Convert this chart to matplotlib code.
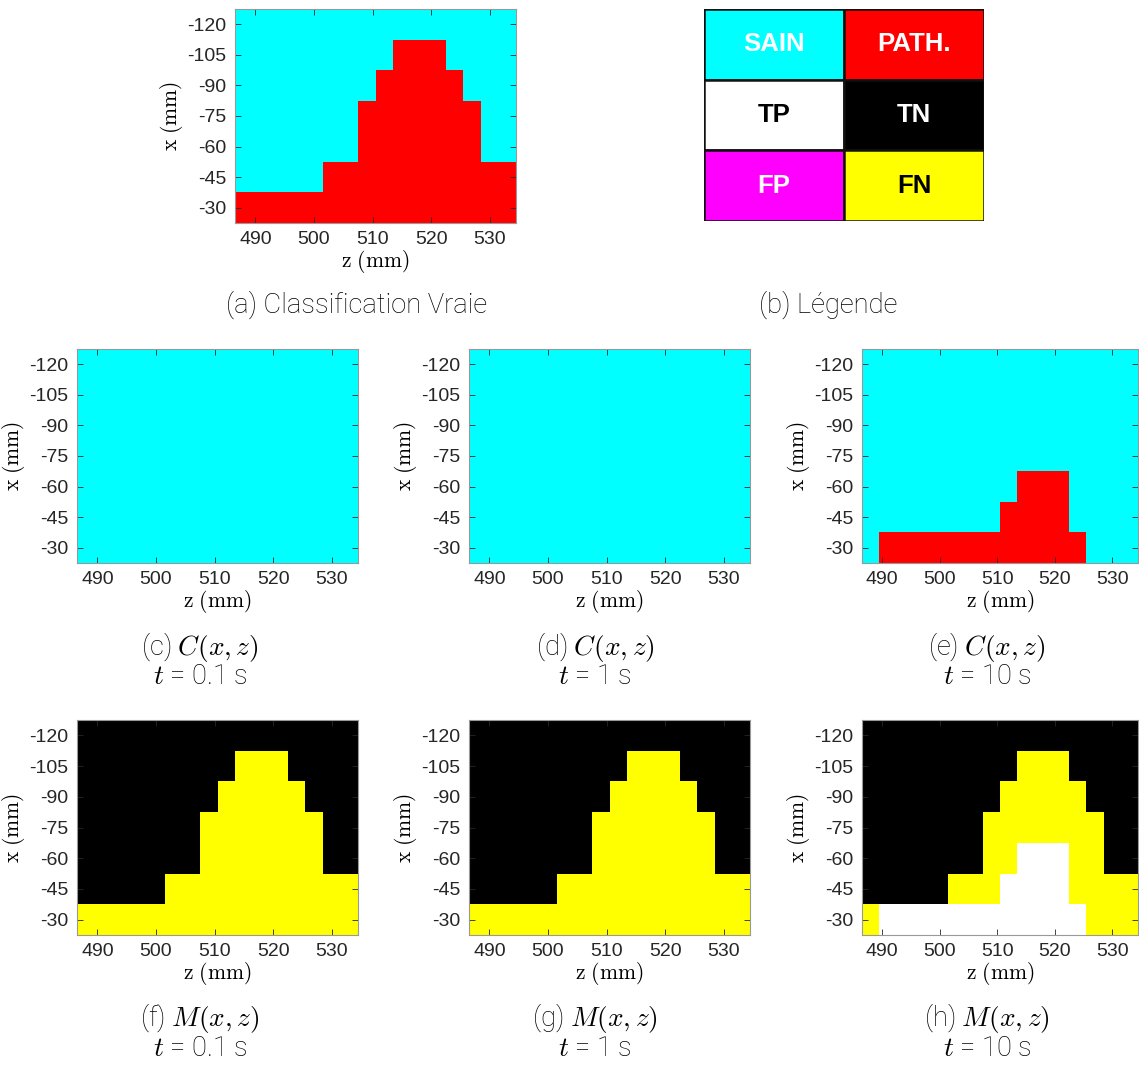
import matplotlib
matplotlib.use('Agg')
import matplotlib.pyplot as plt
import numpy as np
from matplotlib.colors import ListedColormap

plt.rcParams['mathtext.fontset'] = 'cm'
plt.rcParams['axes.unicode_minus'] = False

# grid centres
z_mm = [488 + 3 * i for i in range(16)]
x_mm = [-120, -105, -90, -75, -60, -45, -30]

# true classification: 0 = sain, 1 = pathologique (rows from x=-120 to x=-30)
truth = [
    [0, 0, 0, 0, 0, 0, 0, 0, 0, 0, 0, 0, 0, 0, 0, 0],
    [0, 0, 0, 0, 0, 0, 0, 0, 0, 1, 1, 1, 0, 0, 0, 0],
    [0, 0, 0, 0, 0, 0, 0, 0, 1, 1, 1, 1, 1, 0, 0, 0],
    [0, 0, 0, 0, 0, 0, 0, 1, 1, 1, 1, 1, 1, 1, 0, 0],
    [0, 0, 0, 0, 0, 0, 0, 1, 1, 1, 1, 1, 1, 1, 0, 0],
    [0, 0, 0, 0, 0, 1, 1, 1, 1, 1, 1, 1, 1, 1, 1, 1],
    [1, 1, 1, 1, 1, 1, 1, 1, 1, 1, 1, 1, 1, 1, 1, 1],
]
pred_t01 = [[0] * 16 for _ in range(7)]
pred_t1 = [[0] * 16 for _ in range(7)]
pred_t10 = [
    [0, 0, 0, 0, 0, 0, 0, 0, 0, 0, 0, 0, 0, 0, 0, 0],
    [0, 0, 0, 0, 0, 0, 0, 0, 0, 0, 0, 0, 0, 0, 0, 0],
    [0, 0, 0, 0, 0, 0, 0, 0, 0, 0, 0, 0, 0, 0, 0, 0],
    [0, 0, 0, 0, 0, 0, 0, 0, 0, 0, 0, 0, 0, 0, 0, 0],
    [0, 0, 0, 0, 0, 0, 0, 0, 0, 1, 1, 1, 0, 0, 0, 0],
    [0, 0, 0, 0, 0, 0, 0, 0, 1, 1, 1, 1, 0, 0, 0, 0],
    [0, 1, 1, 1, 1, 1, 1, 1, 1, 1, 1, 1, 1, 0, 0, 0],
]
times = ['0.1', '1', '10']

legend_labels = [['SAIN', 'PATH.'], ['TP', 'TN'], ['FP', 'FN']]
legend_colors = [['#00ffff', '#ff0000'], ['#ffffff', '#000000'], ['#ff00ff', '#ffff00']]
legend_text = [['white', 'white'], ['black', 'white'], ['white', 'black']]

class_cmap = ListedColormap(['#00ffff', '#ff0000'])
# 0 TN, 1 FP, 2 FN, 3 TP
match_cmap = ListedColormap(['#000000', '#ff00ff', '#ffff00', '#ffffff'])


def match_map(t, p):
    t = np.array(t)
    p = np.array(p)
    m = np.zeros_like(t)
    m[(t == 0) & (p == 1)] = 1
    m[(t == 1) & (p == 0)] = 2
    m[(t == 1) & (p == 1)] = 3
    return m


z_edges = np.concatenate([[z_mm[0] - 1.5], np.array(z_mm) + 1.5])
x_edges = np.concatenate([[x_mm[0] - 7.5], np.array(x_mm) + 7.5])

W, H = 1139, 1065
fig = plt.figure(figsize=(W / 100, H / 100), dpi=100)


def px_axes(l, t, r, b):
    return fig.add_axes([l / W, 1 - b / H, (r - l) / W, (b - t) / H])


def draw_map(ax, data, cmap, vmax):
    ax.pcolormesh(z_edges, x_edges, np.array(data), cmap=cmap, vmin=-0.5, vmax=vmax + 0.5)
    ax.set_xlim(z_edges[0], z_edges[-1])
    ax.set_ylim(x_edges[-1], x_edges[0])
    ax.set_xticks([490, 500, 510, 520, 530])
    ax.set_yticks([-120, -105, -90, -75, -60, -45, -30])
    ax.tick_params(direction='in', top=True, right=True, length=4, width=0.6,
                   colors='#262626', labelsize=14, labelcolor='#262626', pad=6)
    for lab in ax.get_xticklabels() + ax.get_yticklabels():
        lab.set_family('Liberation Sans')
    for s in ax.spines.values():
        s.set_color('#999999')
        s.set_linewidth(0.8)
    ax.set_xlabel(r'$\mathrm{z\ (mm)}$', fontsize=15.5, labelpad=0)
    ax.set_ylabel(r'$\mathrm{x\ (mm)}$', fontsize=15.5, labelpad=2)


cap_font = dict(family='Roboto', fontweight='light', fontsize=19.7, color='black',
                ha='center', va='center')

# (a)
ax = px_axes(235, 9, 516, 223)
draw_map(ax, truth, class_cmap, 1)
fig.text(357 / W, 1 - 305 / H, '(a) Classification Vraie', **cap_font)

# (b) legend table
axl = px_axes(704, 9, 984, 221)
axl.set_xlim(0, 2)
axl.set_ylim(3, 0)
axl.axis('off')
for i in range(3):
    for j in range(2):
        axl.add_patch(plt.Rectangle((j, i), 1, 1, facecolor=legend_colors[i][j],
                                    edgecolor='#111111', linewidth=1.8))
        axl.text(j + 0.5, i + 0.5, legend_labels[i][j], ha='center', va='center',
                 color=legend_text[i][j], fontsize=18.5, fontweight='bold',
                 family='Liberation Sans')
fig.text(828 / W, 1 - 305 / H, '(b) Légende', **cap_font)

cols = [(77, 358), (469, 750), (862, 1138)]
cap_x = [200, 595, 987]
letters_c = ['c', 'd', 'e']
letters_m = ['f', 'g', 'h']
preds = [pred_t01, pred_t1, pred_t10]

for k, (l, r) in enumerate(cols):
    axc = px_axes(l, 349, r, 563)
    draw_map(axc, preds[k], class_cmap, 1)
    cx = cap_x[k]
    fig.text(cx / W, 1 - 647 / H, '(%s) $C(x,z)$' % letters_c[k], **cap_font)
    fig.text(cx / W, 1 - 677 / H, '$t$ = %s s' % times[k], **cap_font)

    axm = px_axes(l, 720, r, 935)
    draw_map(axm, match_map(truth, preds[k]), match_cmap, 3)
    fig.text(cx / W, 1 - 1018 / H, '(%s) $M(x,z)$' % letters_m[k], **cap_font)
    fig.text(cx / W, 1 - 1048 / H, '$t$ = %s s' % times[k], **cap_font)

fig.savefig('out.png', dpi=100)
